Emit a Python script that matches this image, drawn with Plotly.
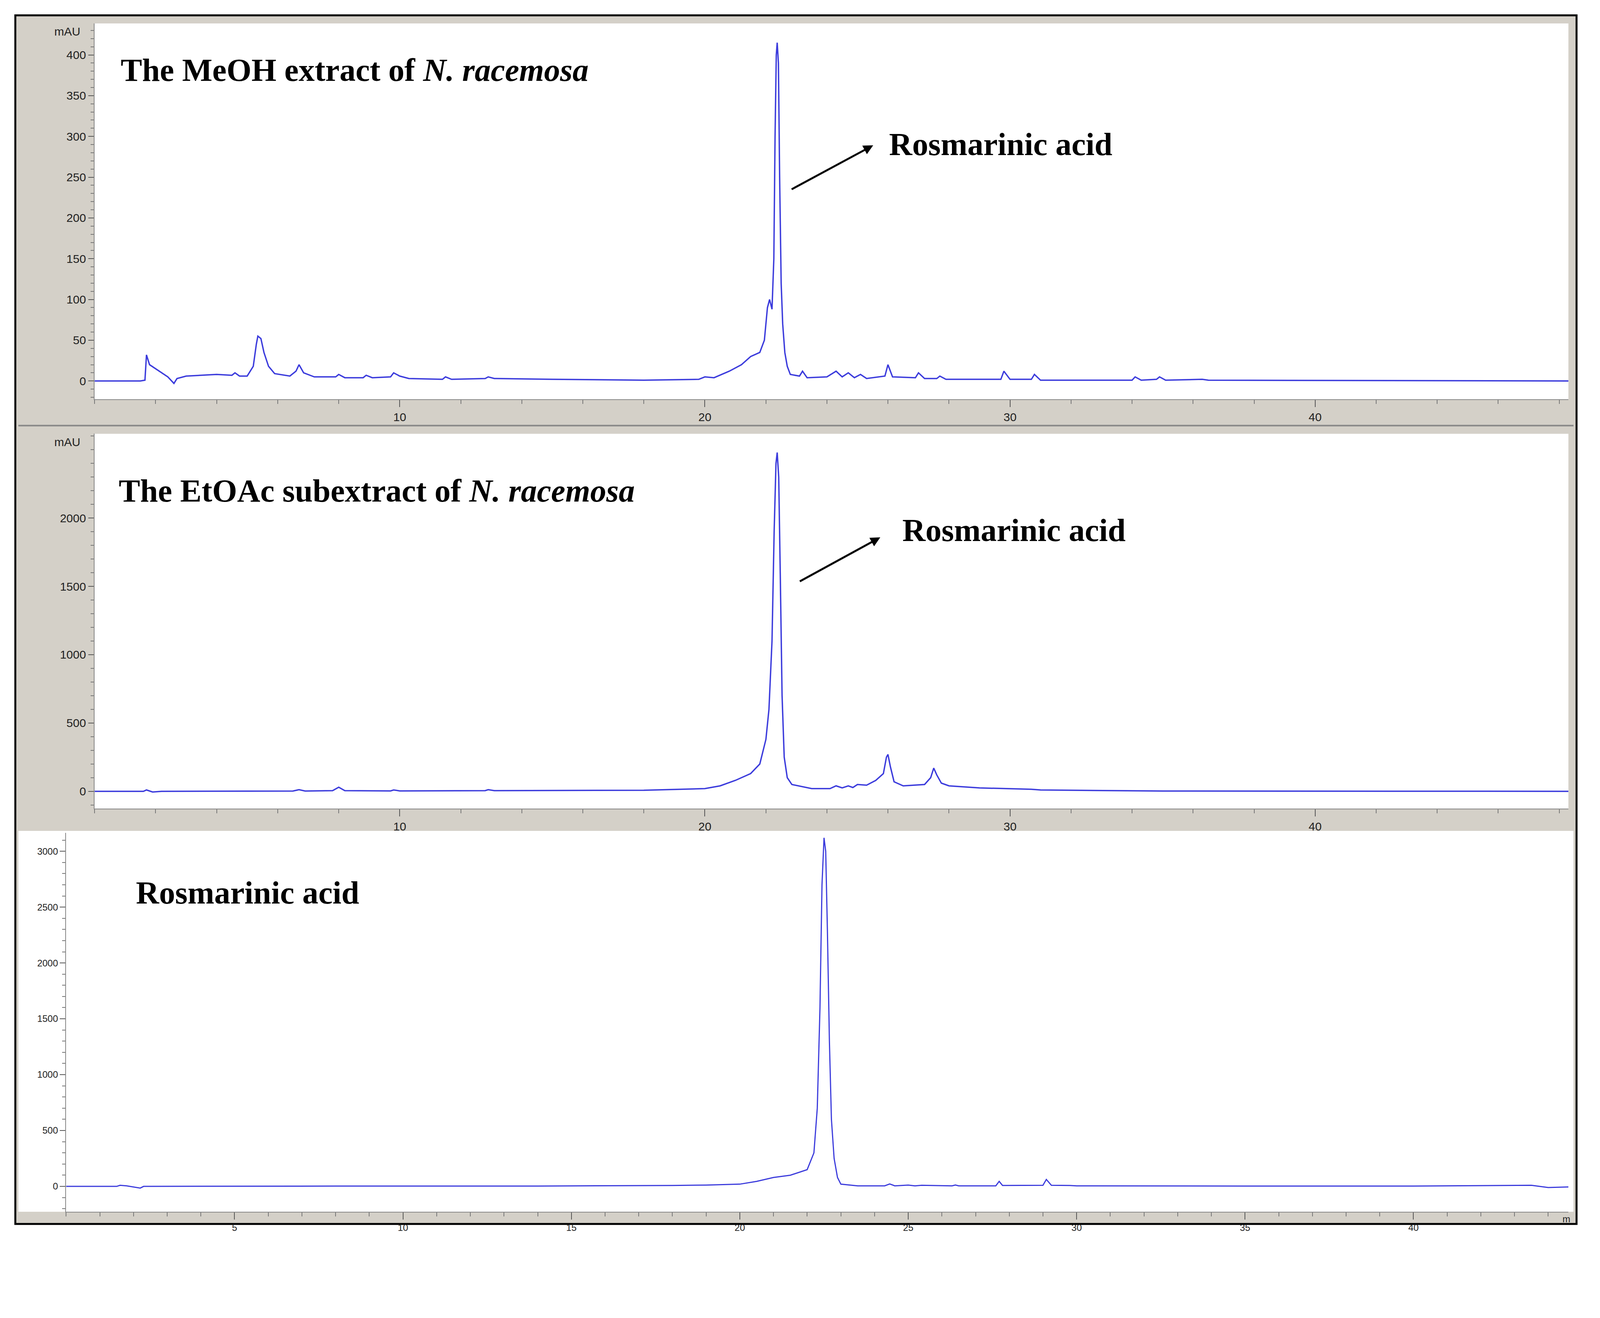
import plotly.graph_objects as go

# --- chromatogram readings (time in min, signal in mAU) ---
meoh_t = [0, 1.5, 1.65, 1.7, 1.8, 2.0, 2.2, 2.4, 2.6, 2.7, 3.0, 4.0, 4.5, 4.6, 4.75, 5.0, 5.2, 5.3, 5.35,
          5.45, 5.55, 5.7, 5.9, 6.4, 6.6, 6.7, 6.85, 7.2, 7.9, 8.0, 8.2, 8.8, 8.9, 9.1, 9.7, 9.8, 10.0,
          10.3, 11.4, 11.5, 11.7, 12.8, 12.9, 13.1, 15, 18, 19.8, 20.0, 20.3, 20.8, 21.2, 21.5, 21.8,
          21.95, 22.05, 22.12, 22.2, 22.26, 22.3, 22.34, 22.37, 22.41, 22.45, 22.5, 22.55, 22.62, 22.7,
          22.8, 23.1, 23.2, 23.35, 24.0, 24.3, 24.5, 24.7, 24.9, 25.1, 25.3, 25.9, 26.0, 26.15, 26.9,
          27.0, 27.2, 27.6, 27.7, 27.9, 29.7, 29.8, 30.0, 30.7, 30.8, 31.0, 34.0, 34.1, 34.3, 34.8,
          34.9, 35.1, 36.3, 36.5, 48.3]
meoh_y = [0, 0, 1, 32, 20, 15, 10, 5, -3, 3, 6, 8, 7, 10, 6, 6, 18, 45, 55,
          52, 35, 18, 9, 6, 12, 20, 10, 5, 5, 8, 4, 4, 7, 4, 5, 10, 6,
          3, 2, 5, 2, 3, 5, 3, 2, 1, 2, 5, 4, 12, 20, 30, 35,
          50, 90, 100, 88, 150, 300, 400, 415, 390, 250, 120, 70, 35, 18,
          8, 6, 12, 4, 5, 12, 5, 10, 4, 8, 3, 6, 20, 5, 4,
          10, 3, 3, 6, 2, 2, 12, 2, 2, 8, 1, 1, 5, 1, 2,
          5, 1, 2, 1, 0]

etoac_t = [0, 1.6, 1.7, 1.9, 2.2, 6.5, 6.7, 6.9, 7.8, 8.0, 8.2, 9.7, 9.8, 10.0, 12.8, 12.9, 13.1, 18,
           20, 20.5, 21, 21.5, 21.8, 22.0, 22.1, 22.2, 22.27, 22.33, 22.37, 22.42, 22.47, 22.53, 22.6,
           22.7, 22.85, 23.5, 24.1, 24.3, 24.5, 24.7, 24.85, 25.0, 25.3, 25.6, 25.85, 25.95, 26.0,
           26.08, 26.2, 26.5, 27.2, 27.4, 27.5, 27.6, 27.75, 28.0, 29.0, 30.7, 31.0, 35, 48.3]
etoac_y = [0, 0, 10, -5, 0, 2, 12, 2, 5, 30, 5, 3, 10, 3, 5, 12, 5, 8,
           20, 40, 80, 130, 200, 380, 600, 1100, 1900, 2400, 2480, 2300, 1600, 700, 250,
           100, 50, 20, 20, 40, 25, 40, 28, 50, 45, 80, 130, 250, 270,
           180, 70, 40, 50, 100, 170, 120, 60, 40, 25, 15, 10, 2, 0]

std_t = [0, 1.5, 1.6, 1.8, 2.2, 2.3, 2.5, 8, 14, 18, 19, 20, 20.5, 21, 21.5, 22, 22.2, 22.3, 22.38,
         22.44, 22.5, 22.55, 22.6, 22.66, 22.72, 22.8, 22.9, 23.0, 23.5, 24.3, 24.45, 24.6, 25.0, 25.2,
         25.4, 26.3, 26.4, 26.5, 27.6, 27.7, 27.8, 29.0, 29.1, 29.25, 29.8, 30, 35, 40, 43.5, 44, 44.6]
std_y = [0, 0, 10, 5, -15, 0, 0, 3, 3, 8, 12, 20, 45, 80, 100, 150, 300, 700, 1600,
         2700, 3120, 3000, 2300, 1300, 600, 250, 80, 20, 5, 5, 22, 5, 12, 5,
         10, 5, 12, 5, 5, 45, 8, 10, 62, 10, 8, 5, 3, 3, 10, -10, -5]

S = 4338 / 1568
BLUE = "#3b3bdc"
GREY = "#d4d0c8"


def px(x):
    return x / 1568


def py(y):
    return 1 - y / 1220


fig = go.Figure()
fig.add_trace(go.Scatter(x=meoh_t, y=meoh_y, mode="lines", line=dict(color=BLUE, width=3.5), xaxis="x", yaxis="y"))
fig.add_trace(go.Scatter(x=etoac_t, y=etoac_y, mode="lines", line=dict(color=BLUE, width=3.5), xaxis="x2", yaxis="y2"))
fig.add_trace(go.Scatter(x=std_t, y=std_y, mode="lines", line=dict(color=BLUE, width=3), xaxis="x3", yaxis="y3"))

tickfont = dict(family="Liberation Sans", size=30, color="#222")
small_font = dict(family="Liberation Sans", size=24, color="#222")


def xax(domain, anchor, rng, vals, minor, font):
    return dict(domain=domain, anchor=anchor, range=rng, tickvals=vals, ticks="outside",
                ticklen=18, tickwidth=2, tickcolor="#555", showgrid=False, zeroline=False,
                showline=True, linecolor="#888", linewidth=2, tickfont=font,
                minor=dict(dtick=minor, tick0=0, ticks="outside", ticklen=10, tickcolor="#777", tickwidth=2))


def yax(domain, anchor, rng, vals, minor, font):
    return dict(domain=domain, anchor=anchor, range=rng, tickvals=vals, ticks="outside",
                ticklen=14, tickwidth=2, tickcolor="#555", showgrid=False, zeroline=False,
                showline=True, linecolor="#888", linewidth=2, tickfont=font,
                minor=dict(dtick=minor, tick0=0, ticks="outside", ticklen=8, tickcolor="#777", tickwidth=2))


fig.update_layout(
    autosize=True, margin=dict(l=0, r=0, t=0, b=0),
    paper_bgcolor="white", plot_bgcolor="white", showlegend=False,
    xaxis=xax([px(90), px(1540)], "y", [0, 48.3], [10, 20, 30, 40], 2, tickfont),
    yaxis=yax([py(390), py(20)], "x", [-22.4, 438.6], list(range(0, 401, 50)), 10, tickfont),
    xaxis2=xax([px(90), px(1540)], "y2", [0, 48.3], [10, 20, 30, 40], 2, tickfont),
    yaxis2=yax([py(793), py(424)], "x2", [-126, 2617], [0, 500, 1000, 1500, 2000], 100, tickfont),
    xaxis3=xax([px(62), px(1540)], "y3", [0, 44.6], [5, 10, 15, 20, 25, 30, 35, 40], 1, small_font),
    yaxis3=yax([py(1190), py(817)], "x3", [-227, 3164], [0, 500, 1000, 1500, 2000, 2500, 3000], 100, small_font),
)

# grey instrument background, frame and white area of the standard panel
shapes = [
    dict(type="rect", xref="paper", yref="paper", x0=px(12), x1=px(1548), y0=py(1202), y1=py(12),
         fillcolor=GREY, line=dict(color="black", width=5), layer="below"),
    dict(type="rect", xref="paper", yref="paper", x0=px(15), x1=px(1545), y0=py(1190), y1=py(815),
         fillcolor="white", line=dict(width=0), layer="below"),
    dict(type="rect", xref="paper", yref="paper", x0=px(90), x1=px(1540), y0=py(390), y1=py(20),
         fillcolor="white", line=dict(width=0), layer="below"),
    dict(type="rect", xref="paper", yref="paper", x0=px(90), x1=px(1540), y0=py(793), y1=py(424),
         fillcolor="white", line=dict(width=0), layer="below"),
    dict(type="line", xref="paper", yref="paper", x0=px(15), x1=px(1545), y0=py(416), y1=py(416),
         line=dict(color="#888", width=4)),
]
fig.update_layout(shapes=shapes)

title_font = dict(family="Liberation Serif", size=82, color="black")
ann = [
    dict(x=px(115), y=py(66), text="<b>The MeOH extract of <i>N. racemosa</i></b>"),
    dict(x=px(113), y=py(480), text="<b>The EtOAc subextract of <i>N. racemosa</i></b>"),
    dict(x=px(130), y=py(876), text="<b>Rosmarinic acid</b>"),
    dict(x=px(871), y=py(139), text="<b>Rosmarinic acid</b>"),
    dict(x=px(884), y=py(519), text="<b>Rosmarinic acid</b>"),
]
annotations = [dict(a, xref="paper", yref="paper", xanchor="left", yanchor="middle",
                    showarrow=False, font=title_font) for a in ann]
for (x0, y0, x1, y1) in [(780, 181, 856, 140), (788, 567, 863, 526)]:
    annotations.append(dict(xref="paper", yref="paper", x=px(x1), y=py(y1),
                            ax=(x0 - x1) * S, ay=(y0 - y1) * S, text="", showarrow=True,
                            arrowhead=2, arrowsize=1, arrowwidth=5, arrowcolor="black"))
for y in [28, 432]:
    annotations.append(dict(xref="paper", yref="paper", x=px(77), y=py(y), text="mAU",
                            showarrow=False, xanchor="right", yanchor="middle", font=tickfont))
annotations.append(dict(xref="paper", yref="paper", x=px(1538), y=py(1197), text="m",
                        showarrow=False, xanchor="center", yanchor="middle", font=small_font))
fig.update_layout(annotations=annotations)

fig.write_html("out.html", default_width="100%", default_height="94vh")
